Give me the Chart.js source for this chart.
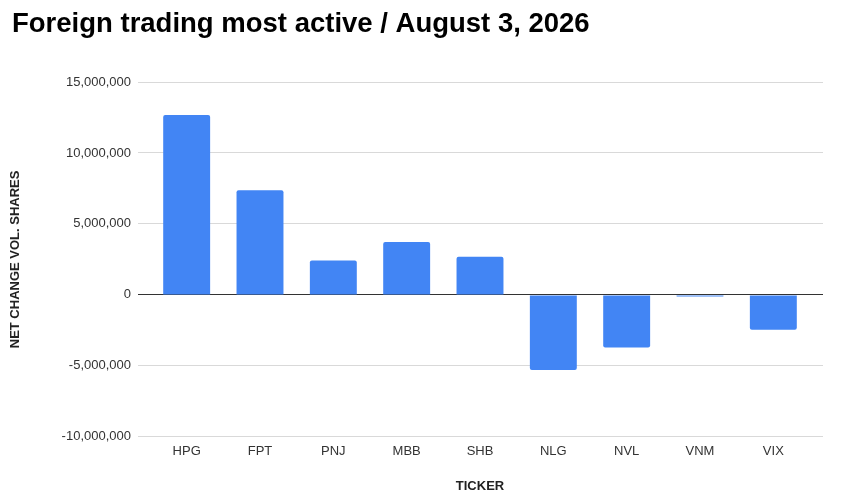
<!DOCTYPE html>
<html>
<head>
<meta charset="utf-8">
<script src="https://cdn.jsdelivr.net/npm/chart.js@4"></script>
<style>
  html, body { margin: 0; padding: 0; background: #fff; }
  #wrap { width: 852px; height: 502px; }
</style>
</head>
<body>
<div id="wrap"><canvas id="chart" width="852" height="502"></canvas></div>
<script>
// data
const tickers = ['HPG', 'FPT', 'PNJ', 'MBB', 'SHB', 'NLG', 'NVL', 'VNM', 'VIX'];
const netChange = [12670000, 7370000, 2420000, 3720000, 2690000, -5300000, -3700000, -120000, -2450000];
const yMin = -10000000;
const yMax = 15000000;
const yStep = 5000000;

const gridColor = (c) => c.tick && c.tick.value === 0 ? '#333' : '#d9d9d9';

const ctx = document.getElementById('chart').getContext('2d');
const chart = new Chart(ctx, {
    type: 'bar',
    data: {
        labels: tickers,
        datasets: [{
            label: 'Net change vol. shares',
            data: netChange,
            backgroundColor: '#4285F4',
            borderRadius: 2,
            borderSkipped: 'start',
            categoryPercentage: 1,
            barPercentage: 0.64
        }]
    },
    options: {
        responsive: false,
        animation: false,
        layout: {
            // left padding pushes the title in; y axis width is trimmed to match
            padding: { left: 12, right: 29, top: 0, bottom: 7 }
        },
        plugins: {
            legend: { display: false },
            tooltip: { enabled: false },
            title: {
                display: true,
                text: 'Foreign trading most active / August 3, 2026',
                align: 'start',
                color: '#000',
                font: { family: 'Liberation Sans', size: 27.5, weight: 'bold' },
                padding: { top: 8, bottom: 41 }
            }
        },
        scales: {
            x: {
                grid: { display: false, drawTicks: false },
                border: { display: false },
                ticks: {
                    color: '#333',
                    font: { family: 'Liberation Sans', size: 13 },
                    padding: 7
                },
                title: {
                    display: true,
                    text: 'TICKER',
                    color: '#222',
                    font: { family: 'Liberation Sans', size: 13, weight: 'bold' },
                    padding: { top: 12, bottom: 1 }
                }
            },
            y: {
                min: yMin,
                max: yMax,
                afterFit: (scale) => { scale.width = 138; },
                ticks: {
                    stepSize: yStep,
                    color: '#333',
                    font: { family: 'Liberation Sans', size: 13 },
                    padding: 7,
                    callback: (v) => v.toLocaleString('en-US')
                },
                grid: {
                    // tick marks carry the gridline out past the first bar gap
                    drawTicks: true,
                    tickLength: 12,
                    color: gridColor,
                    lineWidth: 1
                },
                border: { display: false },
                title: {
                    display: true,
                    text: 'NET CHANGE VOL. SHARES',
                    color: '#222',
                    font: { family: 'Liberation Sans', size: 13, weight: 'bold' },
                    padding: { top: -4, bottom: 0 }
                }
            },
            yRight: {
                position: 'right',
                min: yMin,
                max: yMax,
                afterFit: (scale) => { scale.width = 13; },
                ticks: { stepSize: yStep, display: false },
                grid: {
                    drawOnChartArea: false,
                    drawTicks: true,
                    tickLength: 13,
                    color: gridColor,
                    lineWidth: 1
                },
                border: { display: false }
            }
        }
    }
});
</script>
</body>
</html>
